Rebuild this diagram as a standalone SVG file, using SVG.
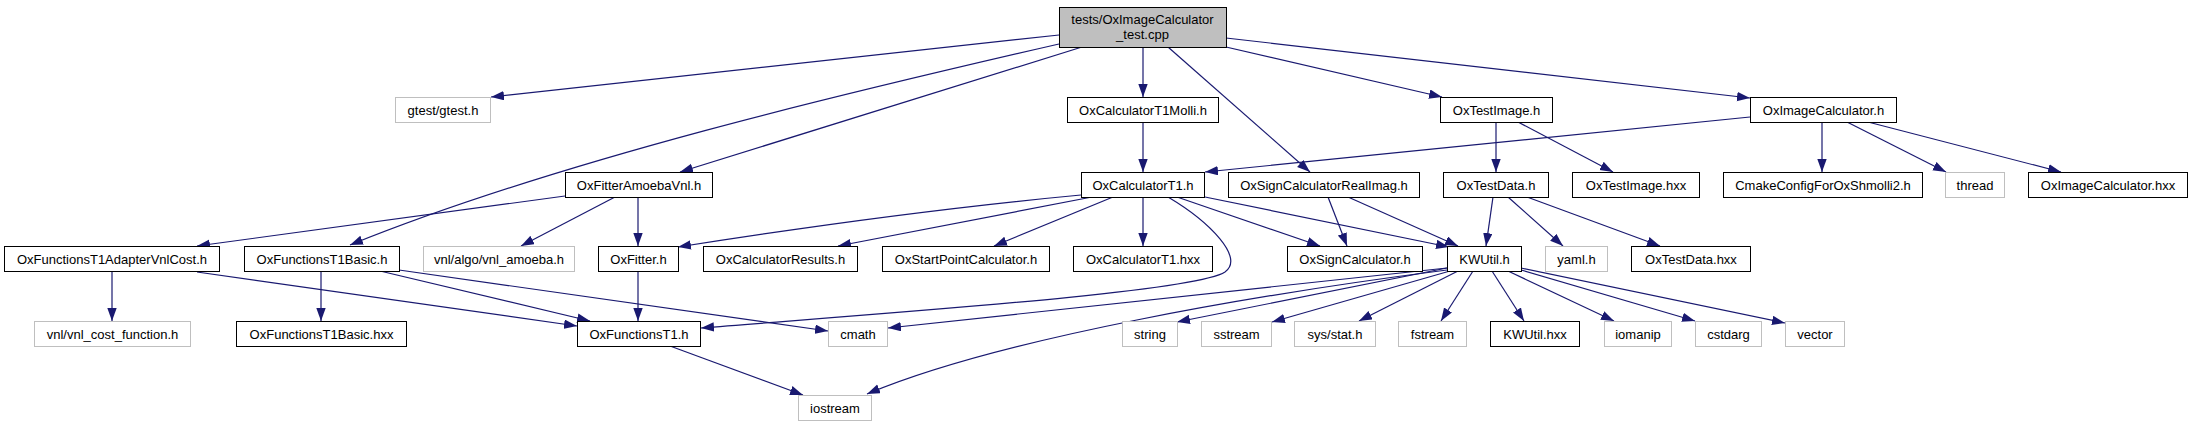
<svg xmlns="http://www.w3.org/2000/svg" width="2193" height="427" viewBox="0 0 2193 427">
<defs>
<style>
.n rect{fill:#ffffff;stroke:#000000;stroke-width:1}
.g rect{fill:#ffffff;stroke:#bfbfbf;stroke-width:1}
.m rect{fill:#bfbfbf;stroke:#000000;stroke-width:1}
text{font-family:"Liberation Sans",Arial,Helvetica,sans-serif;font-size:13px;fill:#000000;text-anchor:middle}
#edges path{fill:none;stroke:#191970;stroke-width:1.2;marker-end:url(#arr)}
</style>
<marker id="arr" markerWidth="14" markerHeight="10" refX="13" refY="4.7" orient="auto" markerUnits="userSpaceOnUse">
<path d="M0,0 L13,4.7 L0,9.4 z" fill="#191970"/>
</marker>
</defs>
<rect x="0" y="0" width="2193" height="427" fill="#ffffff"/>
<g id="edges">
<path d="M1059,35 L491,97"/>
<path d="M1059,44 C850,92 560,160 350,245"/>
<path d="M1082,47 L680,172"/>
<path d="M1143,47 L1143,97"/>
<path d="M1168,47 L1310,172"/>
<path d="M1226,47 L1442,97"/>
<path d="M1226,38 L1750,98"/>
<path d="M1143,122 L1143,172"/>
<path d="M1750,117 L1205,172"/>
<path d="M1822,122 L1822,172"/>
<path d="M1847,122 L1946,172"/>
<path d="M1868,122 L2061,172"/>
<path d="M1496,122 L1496,172"/>
<path d="M1518,122 L1613,172"/>
<path d="M565,196 L197,246"/>
<path d="M615,197 L521,246"/>
<path d="M638,197 L638,246"/>
<path d="M1081,195 Q900,212 678,247"/>
<path d="M1092,197 L838,246"/>
<path d="M1113,197 L994,246"/>
<path d="M1143,197 L1143,246"/>
<path d="M1168,197 C1210,222 1245,258 1225,272 C1195,292 900,312 701,328"/>
<path d="M1177,197 L1320,246"/>
<path d="M1205,197 L1449,247"/>
<path d="M1328,197 L1347,246"/>
<path d="M1348,197 L1458,246"/>
<path d="M1493,197 L1486,246"/>
<path d="M1508,197 L1563,246"/>
<path d="M1527,197 L1660,246"/>
<path d="M112,271 L112,321"/>
<path d="M197,272 L577,326"/>
<path d="M321,271 L321,321"/>
<path d="M380,271 L590,321"/>
<path d="M399,270 L828,331"/>
<path d="M638,271 L638,321"/>
<path d="M670,346 L803,395"/>
<path d="M1447,268 L1177,322"/>
<path d="M1450,271 L1272,322"/>
<path d="M1458,271 L1359,321"/>
<path d="M1473,271 L1441,321"/>
<path d="M1492,271 L1524,321"/>
<path d="M1508,271 L1614,321"/>
<path d="M1521,270 L1695,321"/>
<path d="M1521,268 L1785,323"/>
<path d="M1447,268 L888,328"/>
<path d="M1447,270 C1260,294 1000,338 867,394"/>
</g>
<g id="main" class="m"><rect x="1059.5" y="7.5" width="167" height="40"/><text x="1142.5" y="24">tests/OxImageCalculator</text><text x="1142.5" y="39">_test.cpp</text></g>
<g id="gtest" class="g"><rect x="395.5" y="97.5" width="95" height="25"/><text x="443" y="114.5">gtest/gtest.h</text></g>
<g id="molli" class="n"><rect x="1067.5" y="97.5" width="151" height="25"/><text x="1143" y="114.5">OxCalculatorT1Molli.h</text></g>
<g id="testimage" class="n"><rect x="1440.5" y="97.5" width="112" height="25"/><text x="1496.5" y="114.5">OxTestImage.h</text></g>
<g id="imagecalc" class="n"><rect x="1750.5" y="97.5" width="146" height="25"/><text x="1823.5" y="114.5">OxImageCalculator.h</text></g>
<g id="amoeba" class="n"><rect x="565.5" y="172.5" width="147" height="25"/><text x="639" y="189.5">OxFitterAmoebaVnl.h</text></g>
<g id="calct1" class="n"><rect x="1081.5" y="172.5" width="123" height="25"/><text x="1143" y="189.5">OxCalculatorT1.h</text></g>
<g id="signri" class="n"><rect x="1228.5" y="172.5" width="191" height="25"/><text x="1324" y="189.5">OxSignCalculatorRealImag.h</text></g>
<g id="testdata" class="n"><rect x="1443.5" y="172.5" width="105" height="25"/><text x="1496" y="189.5">OxTestData.h</text></g>
<g id="testimagehxx" class="n"><rect x="1572.5" y="172.5" width="127" height="25"/><text x="1636" y="189.5">OxTestImage.hxx</text></g>
<g id="cmake" class="n"><rect x="1723.5" y="172.5" width="199" height="25"/><text x="1823" y="189.5">CmakeConfigForOxShmolli2.h</text></g>
<g id="thread" class="g"><rect x="1945.5" y="172.5" width="59" height="25"/><text x="1975" y="189.5">thread</text></g>
<g id="imagecalchxx" class="n"><rect x="2028.5" y="172.5" width="159" height="25"/><text x="2108" y="189.5">OxImageCalculator.hxx</text></g>
<g id="adapter" class="n"><rect x="4.5" y="246.5" width="215" height="25"/><text x="112" y="263.5">OxFunctionsT1AdapterVnlCost.h</text></g>
<g id="basic" class="n"><rect x="244.5" y="246.5" width="155" height="25"/><text x="322" y="263.5">OxFunctionsT1Basic.h</text></g>
<g id="vnlamoeba" class="g"><rect x="423.5" y="246.5" width="151" height="25"/><text x="499" y="263.5">vnl/algo/vnl_amoeba.h</text></g>
<g id="fitter" class="n"><rect x="598.5" y="246.5" width="80" height="25"/><text x="638.5" y="263.5">OxFitter.h</text></g>
<g id="results" class="n"><rect x="703.5" y="246.5" width="154" height="25"/><text x="780.5" y="263.5">OxCalculatorResults.h</text></g>
<g id="startpoint" class="n"><rect x="882.5" y="246.5" width="167" height="25"/><text x="966" y="263.5">OxStartPointCalculator.h</text></g>
<g id="calct1hxx" class="n"><rect x="1073.5" y="246.5" width="139" height="25"/><text x="1143" y="263.5">OxCalculatorT1.hxx</text></g>
<g id="signcalc" class="n"><rect x="1287.5" y="246.5" width="135" height="25"/><text x="1355" y="263.5">OxSignCalculator.h</text></g>
<g id="kwutil" class="n"><rect x="1447.5" y="246.5" width="74" height="25"/><text x="1484.5" y="263.5">KWUtil.h</text></g>
<g id="yaml" class="g"><rect x="1545.5" y="246.5" width="62" height="25"/><text x="1576.5" y="263.5">yaml.h</text></g>
<g id="testdatahxx" class="n"><rect x="1631.5" y="246.5" width="119" height="25"/><text x="1691" y="263.5">OxTestData.hxx</text></g>
<g id="costfn" class="g"><rect x="34.5" y="321.5" width="156" height="25"/><text x="112.5" y="338.5">vnl/vnl_cost_function.h</text></g>
<g id="basichxx" class="n"><rect x="236.5" y="321.5" width="170" height="25"/><text x="321.5" y="338.5">OxFunctionsT1Basic.hxx</text></g>
<g id="funct1" class="n"><rect x="577.5" y="321.5" width="123" height="25"/><text x="639" y="338.5">OxFunctionsT1.h</text></g>
<g id="cmath" class="g"><rect x="828.5" y="321.5" width="59" height="25"/><text x="858" y="338.5">cmath</text></g>
<g id="string" class="g"><rect x="1122.5" y="321.5" width="55" height="25"/><text x="1150" y="338.5">string</text></g>
<g id="sstream" class="g"><rect x="1201.5" y="321.5" width="70" height="25"/><text x="1236.5" y="338.5">sstream</text></g>
<g id="sysstat" class="g"><rect x="1294.5" y="321.5" width="81" height="25"/><text x="1335" y="338.5">sys/stat.h</text></g>
<g id="fstream" class="g"><rect x="1398.5" y="321.5" width="68" height="25"/><text x="1432.5" y="338.5">fstream</text></g>
<g id="kwutilhxx" class="n"><rect x="1490.5" y="321.5" width="89" height="25"/><text x="1535" y="338.5">KWUtil.hxx</text></g>
<g id="iomanip" class="g"><rect x="1604.5" y="321.5" width="67" height="25"/><text x="1638" y="338.5">iomanip</text></g>
<g id="cstdarg" class="g"><rect x="1695.5" y="321.5" width="66" height="25"/><text x="1728.5" y="338.5">cstdarg</text></g>
<g id="vector" class="g"><rect x="1785.5" y="321.5" width="59" height="25"/><text x="1815" y="338.5">vector</text></g>
<g id="iostream" class="g"><rect x="798.5" y="395.5" width="73" height="25"/><text x="835" y="412.5">iostream</text></g>
</svg>
